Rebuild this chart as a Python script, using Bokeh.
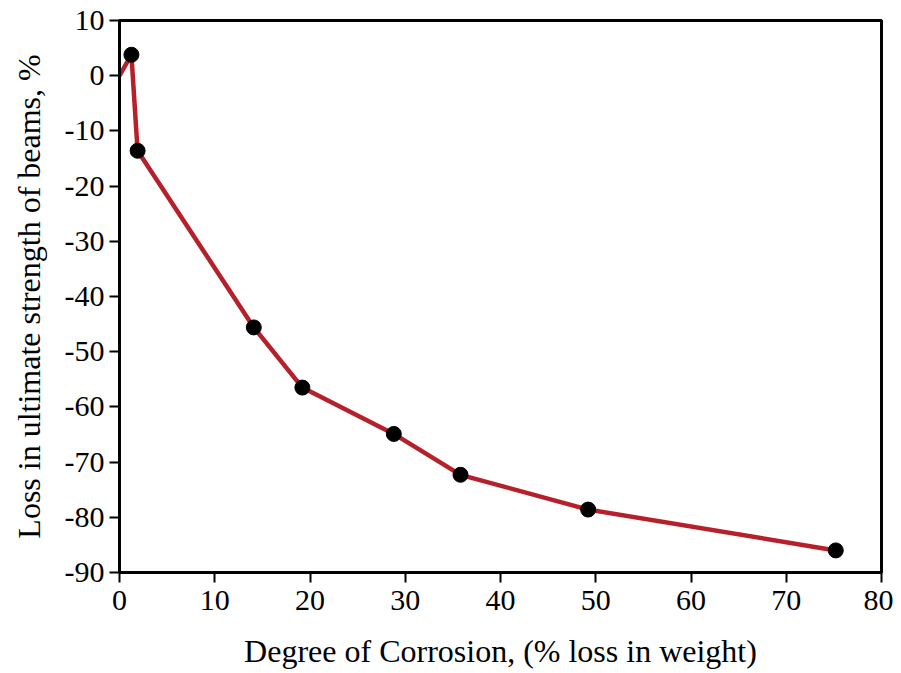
from bokeh.plotting import figure
from bokeh.embed import file_html
from bokeh.resources import INLINE
from bokeh.models import Range1d, FixedTicker

# Data
corrosion = [0.0, 1.25, 1.9, 14.1, 19.2, 28.8, 35.8, 49.2, 75.2]
strength_loss = [0.0, 3.8, -13.6, -45.6, -56.5, -64.9, -72.3, -78.6, -86.0]
marker_x = corrosion[1:]
marker_y = strength_loss[1:]
x_ticks = [0, 10, 20, 30, 40, 50, 60, 70, 80]
y_ticks = [10, 0, -10, -20, -30, -40, -50, -60, -70, -80, -90]

FONT = "Liberation Serif"

p = figure(width=893, height=672, output_backend="svg", toolbar_location=None,
           x_range=Range1d(0, 80), y_range=Range1d(-90, 10),
           min_border_left=119, min_border_right=12, min_border_top=20, min_border_bottom=100)

p.line(corrosion, strength_loss, line_color="#b5202a", line_width=4.5)
p.scatter(marker_x, marker_y, size=15, fill_color="black", line_color="black")

p.xgrid.visible = False
p.ygrid.visible = False
p.outline_line_color = "black"
p.outline_line_width = 3
p.background_fill_color = "white"
p.border_fill_color = "white"

p.xaxis.ticker = FixedTicker(ticks=x_ticks)
p.yaxis.ticker = FixedTicker(ticks=y_ticks)
p.yaxis.major_label_overrides = {t: str(t) for t in y_ticks}
p.xaxis.major_label_overrides = {t: str(t) for t in x_ticks}
p.xaxis.axis_label = "Degree of Corrosion, (% loss in weight)"
p.yaxis.axis_label = "Loss in ultimate strength of beams, %"

for ax in (p.xaxis, p.yaxis):
    ax.axis_line_color = "black"
    ax.axis_line_width = 3
    ax.major_tick_line_color = "black"
    ax.major_tick_line_width = 2
    ax.major_tick_out = 10
    ax.major_tick_in = 0
    ax.minor_tick_line_color = None
    ax.major_label_text_font = FONT
    ax.major_label_text_font_size = "30px"
    ax.major_label_text_color = "black"
    ax.axis_label_text_font = FONT
    ax.axis_label_text_font_size = "32px"
    ax.axis_label_text_font_style = "normal"
    ax.axis_label_text_color = "black"

p.yaxis.major_label_standoff = 5
p.xaxis.major_label_standoff = 8
p.xaxis.axis_label_standoff = 20
p.yaxis.axis_label_standoff = 15

open("out.html", "w").write(file_html(p, INLINE))
